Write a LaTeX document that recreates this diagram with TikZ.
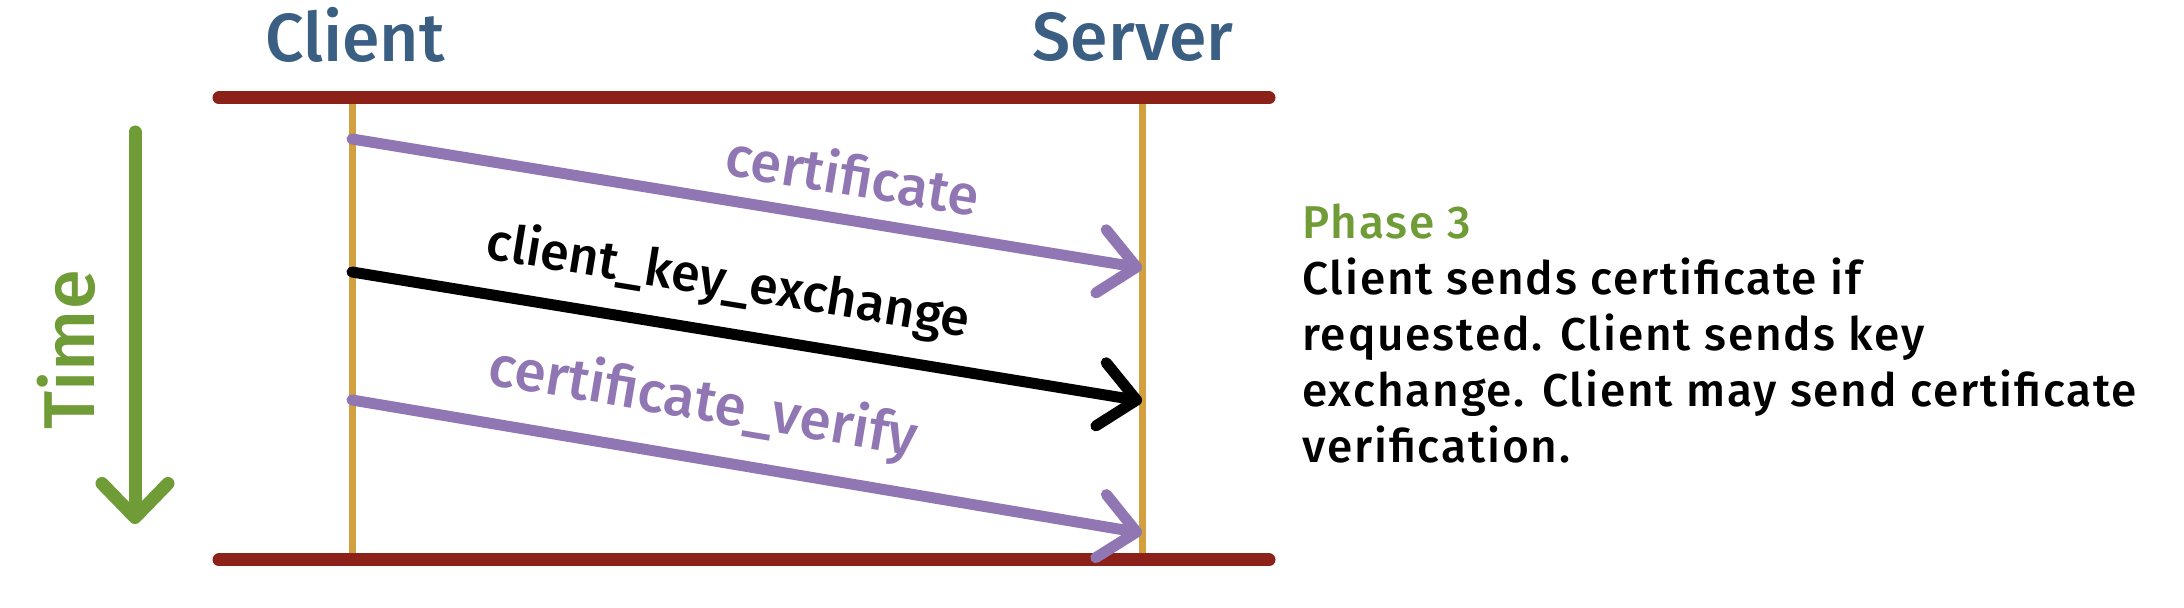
\documentclass[tikz,border=0pt]{standalone}
\usepackage{fontspec}
\setmainfont{Fira Sans}[UprightFont=* Medium]
\usetikzlibrary{arrows.meta}
\definecolor{barred}{HTML}{8B2119}
\definecolor{lifegold}{HTML}{D2A03E}
\definecolor{msgpurple}{HTML}{9077B4}
\definecolor{timegreen}{HTML}{6F9C36}
\definecolor{hdrblue}{HTML}{3B5F83}
\begin{document}
\begin{tikzpicture}[x=0.5pt,y=-0.5pt,
  bar/.style={barred,line width=6.5pt,line cap=round},
  lifeline/.style={lifegold,line width=3.5pt},
  msgline/.style={line width=5.5pt,line cap=round,line join=round,
    -{Straight Barb[length=18pt,width=32pt,round]}},
  purplemsg/.style={msgline,msgpurple},
  blackmsg/.style={msgline,black,line width=5.5pt},
  msglabel/.style={sloped,above,inner sep=0pt},
  hdr/.style={hdrblue,font=\fontsize{34}{40}\selectfont,inner sep=0pt},
  timearrow/.style={timegreen,line width=6.5pt,line cap=round,line join=round,
    -{Straight Barb[length=17pt,width=33pt,round]}}]
\useasboundingbox (0,0) rectangle (2184,608);
% lifelines
\coordinate (ctop) at (352,98); \coordinate (cbot) at (352,560);
\coordinate (stop) at (1142,98); \coordinate (sbot) at (1142,560);
\draw[lifeline] (ctop) -- (cbot);
\draw[lifeline] (stop) -- (sbot);
% bars
\coordinate (tl) at (219,98); \coordinate (tr) at (1269,98);
\coordinate (bl) at (219,560); \coordinate (br) at (1269,560);
\draw[bar] (tl) -- (tr);
\draw[bar] (bl) -- (br);
% headers
\node[hdr] (client) at (355,35) {Client};
\node[hdr] (server) at (1133,37) {Server};
% time
\coordinate (t0) at (135,132); \coordinate (t1) at (135,524);
\draw[timearrow] (t0) -- (t1);
\node[timegreen,rotate=90,font=\fontsize{36}{40}\selectfont,inner sep=0pt] (time) at (66,350) {Time};
% messages
\coordinate (c1) at (352,139); \coordinate (s1) at (1142,268);
\coordinate (c2) at (352,272); \coordinate (s2) at (1142,401);
\coordinate (c3) at (352,400); \coordinate (s3) at (1142,533);
\draw[purplemsg] (c1) -- node[msglabel,msgpurple,pos=0.625,yshift=9pt,font=\fontsize{28}{32}\selectfont] (l1) {certificate} (s1);
\draw[blackmsg] (c2) -- node[msglabel,black,pos=0.466,yshift=9pt,font=\fontsize{26}{30}\selectfont] (l2) {client\_key\_exchange} (s2);
\draw[purplemsg] (c3) -- node[msglabel,msgpurple,pos=0.433,yshift=10pt,font=\fontsize{28.5}{32}\selectfont] (l3) {certificate\_verify} (s3);
% description
\node[anchor=north west,align=left,inner sep=0pt,font=\fontsize{23}{28}\selectfont\addfontfeatures{LetterSpace=4}] (desc) at (1302,203)
  {\textcolor{timegreen}{Phase 3}\\
   Client sends certificate if\\
   requested. Client sends key\\
   exchange. Client may send certificate\\
   verification.};
\end{tikzpicture}
\end{document}
